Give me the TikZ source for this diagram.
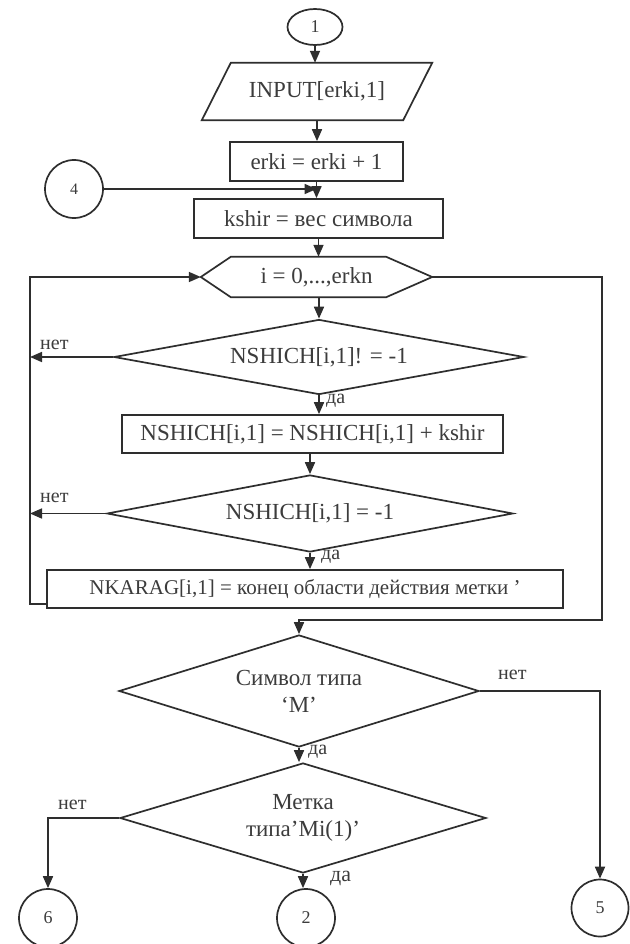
\documentclass[tikz,border=0pt]{standalone}
\usepackage{fontspec}
\setmainfont{Liberation Serif}
\usetikzlibrary{arrows.meta,shapes.geometric,calc}
\definecolor{inkc}{HTML}{2E2E2E}
\definecolor{txtc}{HTML}{3C3C3C}
\begin{document}
\begin{tikzpicture}[x=1pt,y=-1pt,
  ink/.style={draw=inkc,line width=1.7pt},
  arr/.style={ink,-{Triangle[length=12pt,width=10pt]}},
  txt/.style={text=txtc,font=\fontsize{23}{27}\selectfont},
  box/.style={rectangle,ink,txt,inner sep=0pt},
  helper/.style={rectangle,txt,inner sep=0pt},
  dia/.style={diamond,ink,txt,inner sep=0pt,align=center},
  conn/.style={ink,txt,inner sep=0pt,font=\fontsize{18}{20}\selectfont},
  lbl/.style={text=txtc,inner sep=0pt,font=\fontsize{20}{22}\selectfont}
]
\useasboundingbox (0,0) rectangle (629,944);
\fill[white] (0,0) rectangle (629,944);

% connectors (terminals)
\node[conn,ellipse,minimum width=55pt,minimum height=36pt] (c1) at (315,27) {1};
\node[conn,circle,minimum size=58pt,font=\fontsize{16}{18}\selectfont] (c4) at (74,189) {4};
\node[conn,circle,minimum size=58pt] (c6) at (48,918) {6};
\node[conn,circle,minimum size=58pt] (c2) at (306,918) {2};
\node[conn,circle,minimum size=57pt] (c5) at (600,908) {5};

% input parallelogram
\node[helper,minimum width=230pt,minimum height=57pt] (inp) at (317,91.5) {INPUT[erki,1]};
\draw[ink] (inp.south west) -- ($(inp.north west)+(29,0)$) -- (inp.north east)
  -- ($(inp.south east)+(-29,0)$) -- cycle;

\node[box,minimum width=173pt,minimum height=39pt] (erk) at (316.5,161.5) {erki = erki + 1};
\node[box,minimum width=249pt,minimum height=39pt] (ksh) at (318.5,218.5) {kshir = вес символа};

% loop hexagon
\node[helper,minimum width=231pt,minimum height=40pt] (hex) at (316.5,277) {i = 0,...,erkn};
\draw[ink] (hex.west) -- ($(hex.north west)+(30,0)$) -- ($(hex.north east)+(-46,0)$)
  -- (hex.east) -- ($(hex.south east)+(-46,0)$) -- ($(hex.south west)+(30,0)$) -- cycle;

\node[dia,aspect=5.4,minimum width=410pt,minimum height=75pt] (d1) at (319,357) {NSHICH[i,1]! = -1};
\node[box,minimum width=381pt,minimum height=38pt] (ns) at (312.5,434) {NSHICH[i,1] = NSHICH[i,1] + kshir};
\node[dia,aspect=5.3,minimum width=406pt,minimum height=77pt] (d2) at (310,513.5) {NSHICH[i,1] = -1};
\node[box,minimum width=516pt,minimum height=38pt,font=\fontsize{21}{25}\selectfont] (nk) at (305,589) {NKARAG[i,1] = конец области действия метки ’};

\node[dia,aspect=3.2,minimum width=360pt,minimum height=112pt] (sym) at (299,691) {Символ типа\\‘M’};
\node[dia,aspect=3.3,minimum width=366pt,minimum height=110pt] (met) at (303,818) {Метка\\типа'Mi(1)'};

% guide coordinates
\coordinate (lx) at (30,0);
\coordinate (rx) at (602,0);
\coordinate (ry) at (0,620);

% main flow
\draw[arr] (c1.south) -- (c1.south |- inp.north);
\draw[arr] (inp.south) -- (inp.south |- erk.north);
\draw[arr] (erk.south) -- (erk.south |- ksh.north);
\draw[arr] (c4.east) -- (c4.east -| erk.south);
\draw[arr] (ksh.south) -- (ksh.south |- hex.north);
\draw[arr] (d1.north |- hex.south) -- (d1.north);
\draw[arr] (d1.south) -- (d1.south |- ns.north);
\draw[arr] (d2.north |- ns.south) -- (d2.north);
\draw[arr] (d2.south) -- (d2.south |- nk.north);

% loop back
\draw[arr] ($(nk.south west)+(0,-5)$) -| (lx |- hex.west) -- (hex.west);
\draw[arr] (d1.west) -- (d1.west -| lx);
\draw[arr] (d2.west) -- (d2.west -| lx);

% loop exit
\draw[arr] (hex.east) -- (rx |- hex.east) -- (rx |- ry) -- (sym.north |- ry) -- (sym.north);

% lower decisions
\draw[arr] (sym.south) -- (sym.south |- met.north);
\draw[arr] (sym.east) -| (c5.north);
\draw[arr] (met.west) -| (c6.north);
\draw[arr] (met.south) -- (met.south |- c2.north);

% labels
\node[lbl,anchor=south west] (n1) at (40,350) {нет};
\node[lbl,anchor=south west] (n2) at (40,503) {нет};
\node[lbl,anchor=south west] (n3) at (498,680) {нет};
\node[lbl,anchor=south west] (n4) at (58,810) {нет};
\node[lbl,anchor=west] (y1) at (326,401) {да};
\node[lbl,anchor=west] (y2) at (321,557) {да};
\node[lbl,anchor=west] (y3) at (308,752) {да};
\node[lbl,anchor=west,font=\fontsize{22}{24}\selectfont] (y4) at (330,878) {да};
\end{tikzpicture}
\end{document}
